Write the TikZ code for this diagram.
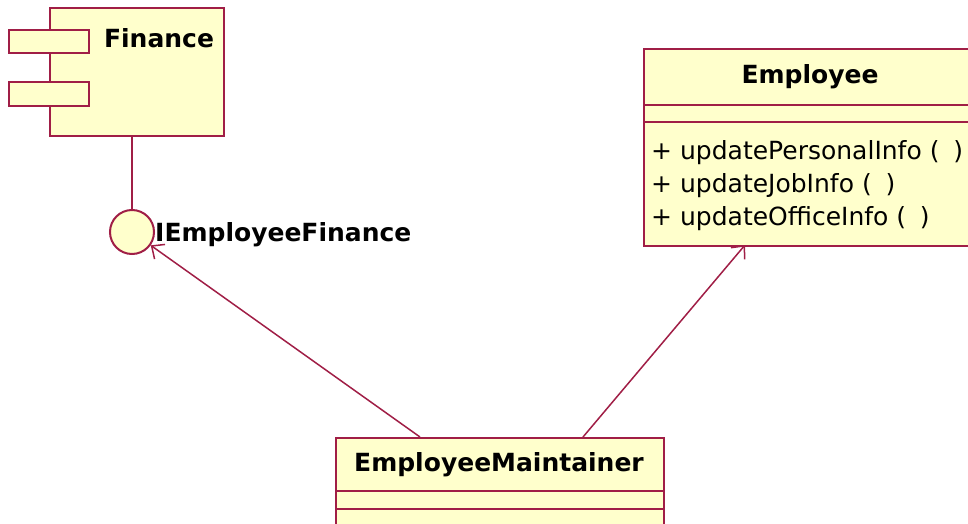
\documentclass[tikz,border=0pt]{standalone}
\usepackage{fontspec}
\setmainfont{DejaVu Sans}
\usetikzlibrary{arrows.meta}
\definecolor{umlred}{RGB}{160,30,70}
\definecolor{umlfill}{RGB}{255,255,204}
\tikzset{
  umlbox/.style={draw=umlred,fill=umlfill,line width=2pt,rectangle,inner sep=0pt},
  title/.style={font=\fontsize{25}{29}\selectfont\bfseries,inner sep=0pt},
  method/.style={font=\fontsize{25}{29}\selectfont,inner sep=0pt,anchor=west},
  dep/.style={draw=umlred,line width=1.5pt,-{Straight Barb[length=10pt,width=18pt]}}
}
\newcommand{\noargs}{(\hspace{0.55em})}
\begin{document}
\begin{tikzpicture}[x=1pt,y=-1pt]
  \useasboundingbox (0,0) rectangle (968,524);
  \clip (0,0) rectangle (968,524);
  % component Finance
  \node[umlbox,anchor=north west,minimum width=174pt,minimum height=128pt] (fin) at (49,7) {};
  \node[umlbox,anchor=north west,minimum width=80pt,minimum height=23pt] (port1) at (8,29) {};
  \node[umlbox,anchor=north west,minimum width=80pt,minimum height=24pt] (port2) at (8,81) {};
  \node[title] (finname) at (159,38) {Finance};
  % interface
  \node[umlbox,circle,minimum size=44pt] (iface) at (132,232) {};
  \node[title,anchor=west] (ifacename) at (155,235) {IEmployeeFinance};
  \draw[umlred,line width=2pt] (iface.north) -- (iface.north |- fin.south);
  % class Employee
  \node[umlbox,anchor=north west,minimum width=340pt,minimum height=197pt] (emp) at (643,48) {};
  \node[title] (empname) at (810,77) {Employee};
  \draw[umlred,line width=2pt] (643,105) -- (968,105);
  \draw[umlred,line width=2pt] (643,122) -- (968,122);
  \node[method] (m1) at (651,153) {+ updatePersonalInfo \noargs};
  \node[method] (m2) at (651,186) {+ updateJobInfo \noargs};
  \node[method] (m3) at (651,219) {+ updateOfficeInfo \noargs};
  % class EmployeeMaintainer
  \node[umlbox,anchor=north west,minimum width=328pt,minimum height=110pt] (maint) at (335,437) {};
  \node[title] (maintname) at (499,465) {EmployeeMaintainer};
  \draw[umlred,line width=2pt] (335,491) -- (663,491);
  \draw[umlred,line width=2pt] (335,509) -- (663,509);
  % dependencies
  \coordinate (d1) at (420,437);
  \coordinate (d2) at (583,437);
  \coordinate (e1) at (745,245);
  \draw[dep] (d1) -- (iface);
  \draw[dep] (d2) -- (e1);
\end{tikzpicture}
\end{document}
